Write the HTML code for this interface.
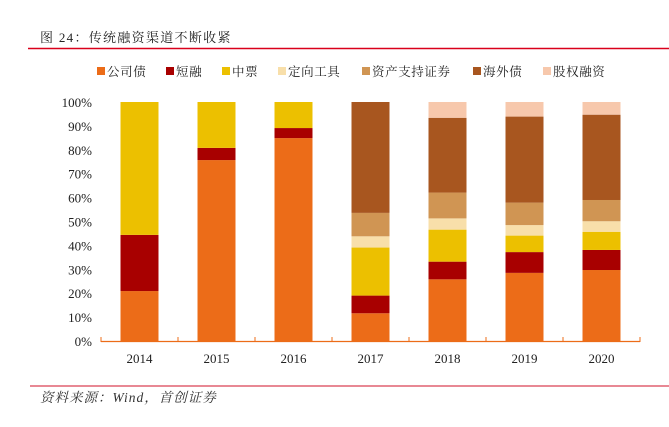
<!DOCTYPE html>
<html><head><meta charset="utf-8"><style>
body{margin:0;background:#fff;width:669px;height:422px;overflow:hidden;font-family:"Liberation Serif","Noto Serif CJK SC",serif;}
</style></head><body>
<svg width="669" height="422" xmlns="http://www.w3.org/2000/svg" id="chart">
<text x="40" y="42" font-size="13" letter-spacing="1.3" fill="#222" font-family="Liberation Serif, Noto Serif CJK SC, serif">图 24：传统融资渠道不断收紧</text>
<line x1="28" y1="48.5" x2="669" y2="48.5" stroke="#d9001b" stroke-width="1.5"/>
<g id="legend"></g>
<g id="yaxis"></g>
<g id="bars"></g>
<g id="xaxis"></g>
<line x1="30" y1="386" x2="669" y2="386" stroke="#e06070" stroke-width="1.5"/>
<text x="40" y="402" font-size="13.5" letter-spacing="1" font-style="italic" fill="#333" font-family="Liberation Serif, Noto Serif CJK SC, serif">资料来源：Wind，首创证券</text>
</svg>
<script>
const categories=["2014","2015","2016","2017","2018","2019","2020"];
const seriesNames=["公司债","短融","中票","定向工具","资产支持证券","海外债","股权融资"];
const corpBond=[20.9,75.7,84.9,11.6,25.8,28.5,29.7];
const shortTerm=[23.5,5.1,4.2,7.4,7.4,8.7,8.4];
const mtn=[55.6,19.2,10.9,20.1,13.4,6.9,7.6];
const ppn=[0,0,0,4.7,4.7,4.4,4.4];
const abs=[0,0,0,9.8,10.8,9.4,8.9];
const overseas=[0,0,0,46.4,31.3,36.0,35.7];
const equity=[0,0,0,0,6.6,6.1,5.3];
const yTicks=[0,10,20,30,40,50,60,70,80,90,100];
const colors=["#ec6c18","#a80000","#ecc000","#f8dfaa","#d09553","#a8561f","#f7c8ac"];
const series=[corpBond,shortTerm,mtn,ppn,abs,overseas,equity];
const NS="http://www.w3.org/2000/svg";
const x0=101,x1=640,yB=341,yT=102;
const band=(x1-x0)/categories.length;
const y=v=>yB-(v/100)*(yB-yT);
const xc=i=>x0+band*(i+0.5);
const bw=38;
function mk(t,a,p){const e=document.createElementNS(NS,t);for(const k in a)e.setAttribute(k,a[k]);p.appendChild(e);return e;}
const bars=document.getElementById('bars');
categories.forEach((c,i)=>{let cum=0;series.forEach((s,j)=>{const v=s[i];if(v>0){const r=mk('rect',{x:xc(i)-bw/2,y:y(cum+v),width:bw,height:y(cum)-y(cum+v),fill:colors[j]},bars);

}cum+=v;});});
const ya=document.getElementById('yaxis');
yTicks.forEach(t=>{const e=mk('text',{x:92,y:y(t)+5,'font-size':13,'text-anchor':'end',fill:'#222'},ya);e.textContent=t+'%';

});
const xa=document.getElementById('xaxis');
const ax=mk('line',{x1:x0,y1:yB+0.5,x2:x1,y2:yB+0.5,stroke:'#ec6c18','stroke-width':1.2},xa);


for(let i=0;i<=categories.length;i++){const tk=mk('line',{x1:x0+band*i,y1:yB-4,x2:x0+band*i,y2:yB+1,stroke:'#ec6c18','stroke-width':1},xa);

}
categories.forEach((c,i)=>{const e=mk('text',{x:xc(i),y:363,'font-size':13,'text-anchor':'middle',fill:'#222'},xa);e.textContent=c;

});
const lg=document.getElementById('legend');
const lx=[97,166,222,278,362,473,543];
seriesNames.forEach((n,j)=>{const r=mk('rect',{x:lx[j],y:67,width:8,height:8,fill:colors[j]},lg);


const t=mk('text',{x:lx[j]+10,y:76,'font-size':12.5,fill:'#222','letter-spacing':'0.6'},lg);t.textContent=n;

});
</script>
</body></html>
